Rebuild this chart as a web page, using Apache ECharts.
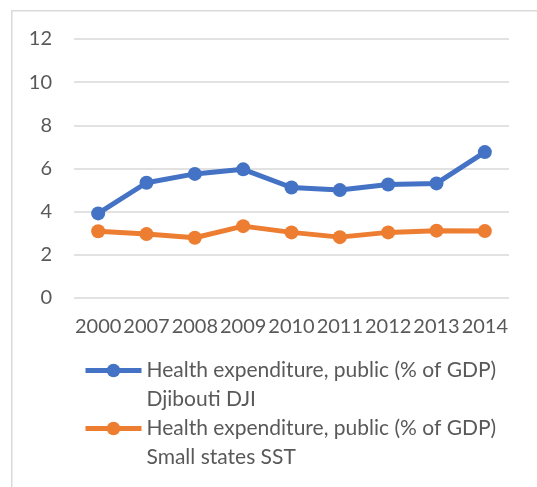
<!DOCTYPE html>
<html>
<head>
<meta charset="utf-8">
<script src="https://cdn.jsdelivr.net/npm/echarts@6/dist/echarts.min.js"></script>
<style>html,body{margin:0;padding:0;background:#fff}#c{width:537px;height:487px}</style>
</head>
<body>
<div id="c"></div>
<script>
const categories = ['2000','2007','2008','2009','2010','2011','2012','2013','2014'];
const djibouti = [3.92, 5.34, 5.75, 5.96, 5.12, 5.0, 5.26, 5.31, 6.76];
const smallStates = [3.09, 2.96, 2.79, 3.33, 3.04, 2.82, 3.04, 3.12, 3.1];
const seriesNames = ['Health expenditure, public (% of GDP)\nDjibouti DJI', 'Health expenditure, public (% of GDP)\nSmall states SST'];
const yTicks = [0, 2, 4, 6, 8, 10, 12];

const FONT = 'Lato';
const TXT = '#595959';
function legendFor(name, top) {
  return {
    orient: 'vertical', left: 83, top: top, padding: 0, itemGap: 0,
    itemWidth: 56, itemHeight: 17,
    formatter: n => ' \n' + n,
    lineStyle: {width: 5},
    textStyle: {fontFamily: FONT, fontSize: 21, color: TXT, lineHeight: 29},
    data: [name]
  };
}
const chart = echarts.init(document.getElementById('c'), null, {renderer: 'canvas'});
chart.setOption({
  animation: false,
  backgroundColor: '#fff',
  graphic: [{
    type: 'rect', left: 11, top: 10, silent: true, z: -1,
    shape: {x: 0, y: 0, width: 540, height: 490},
    style: {fill: '#fff', stroke: '#d9d9d9', lineWidth: 1.5}
  }],
  grid: {left: 74, right: 28, top: 39, bottom: 189},
  legend: [legendFor(seriesNames[0], 327), legendFor(seriesNames[1], 385)],
  xAxis: {
    type: 'category', data: categories, boundaryGap: true,
    axisLine: {show: false}, axisTick: {show: false},
    axisLabel: {interval: 0, margin: 19, fontFamily: FONT, fontSize: 20, color: TXT}
  },
  yAxis: {
    type: 'value', min: yTicks[0], max: yTicks[yTicks.length - 1], interval: 2,
    axisLine: {show: false}, axisTick: {show: false},
    axisLabel: {margin: 22, fontFamily: FONT, fontSize: 20, color: TXT},
    splitLine: {lineStyle: {color: '#d9d9d9', width: 1.5}}
  },
  series: [
    {name: seriesNames[0], type: 'line', data: djibouti, symbol: 'circle', symbolSize: 14,
     itemStyle: {color: '#4472C4'}, lineStyle: {color: '#4472C4', width: 5}},
    {name: seriesNames[1], type: 'line', data: smallStates, symbol: 'circle', symbolSize: 14,
     itemStyle: {color: '#ED7D31'}, lineStyle: {color: '#ED7D31', width: 5}}
  ]
});
</script>
</body>
</html>
